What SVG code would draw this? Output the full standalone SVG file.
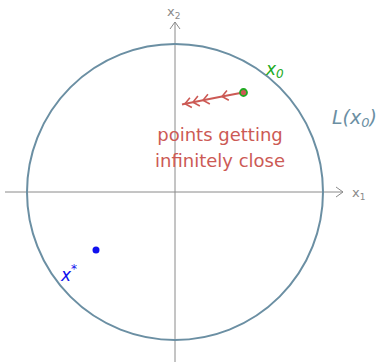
<svg xmlns="http://www.w3.org/2000/svg" width="381" height="364" viewBox="0 0 381 364">
<defs>
<marker id="ax" markerWidth="10" markerHeight="12" refX="8" refY="6" orient="auto" markerUnits="userSpaceOnUse">
<path d="M1,1 L8,6 L1,11" fill="none" stroke="#8a8a8a" stroke-width="1"/>
</marker>
<marker id="chev" markerWidth="10" markerHeight="12" refX="7" refY="6" orient="auto" markerUnits="userSpaceOnUse">
<path d="M1,1 L7,6 L1,11" fill="none" stroke="#cc5a55" stroke-width="1.6"/>
</marker>
</defs>
<style>
.t{font-family:"DejaVu Sans","Liberation Sans",sans-serif;}
.m{font-style:italic;}
.axl{fill:#8a8a8a;font-size:13px;font-family:"DejaVu Sans",sans-serif;}
</style>
<g id="axes">
<line x1="5" y1="192" x2="343" y2="192" stroke="#8a8a8a" stroke-width="1" marker-end="url(#ax)"/>
<line x1="175" y1="362" x2="175" y2="22" stroke="#8a8a8a" stroke-width="1" marker-end="url(#ax)"/>
<text class="axl" x="352" y="197">x<tspan font-size="9" dy="3">1</tspan></text>
<text class="axl" x="167" y="16">x<tspan font-size="9" dy="3">2</tspan></text>
</g>
<g id="circle">
<circle cx="175" cy="192" r="148" fill="none" stroke="#6b8fa3" stroke-width="2"/>
<text class="t m" x="332" y="124" font-size="19" fill="#6b8fa3">L(x<tspan font-size="13" dy="3">0</tspan><tspan dy="-3">)</tspan></text>
</g>
<g id="connectors">
<line x1="243" y1="92.5" x2="222" y2="96.5" stroke="#cc5a55" stroke-width="2" marker-end="url(#chev)"/>
<line x1="222" y1="96.5" x2="203" y2="100.2" stroke="#cc5a55" stroke-width="2" marker-end="url(#chev)"/>
<line x1="203" y1="100.2" x2="193" y2="102.2" stroke="#cc5a55" stroke-width="2" marker-end="url(#chev)"/>
<line x1="193" y1="102.2" x2="185" y2="103.8" stroke="#cc5a55" stroke-width="2" marker-end="url(#chev)"/>
<line x1="185" y1="103.8" x2="182" y2="104.4" stroke="#cc5a55" stroke-width="2"/>
</g>
<g id="x0">
<circle cx="243.5" cy="92.5" r="3.5" fill="#cc5a55" stroke="#22aa22" stroke-width="1.8"/>
<text class="t m" x="266" y="75" font-size="17" fill="#22aa22">x<tspan font-size="12" dy="3">0</tspan></text>
</g>
<g id="label">
<text class="t" x="220" y="141" font-size="18" fill="#cc5a55" text-anchor="middle">points getting</text>
<text class="t" x="220" y="167" font-size="18" fill="#cc5a55" text-anchor="middle">infinitely close</text>
</g>
<g id="xstar">
<circle cx="96" cy="250" r="3.5" fill="#1010ee"/>
<text class="t m" x="61" y="281" font-size="17" fill="#1010ee">x<tspan font-size="12" dy="-8">*</tspan></text>
</g>
</svg>
